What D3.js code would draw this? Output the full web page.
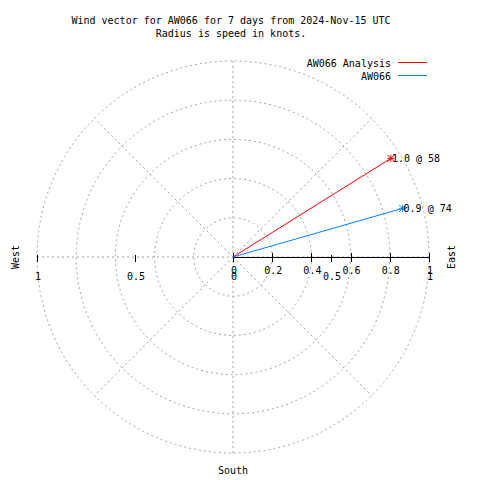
<!DOCTYPE html>
<html>
<head>
<meta charset="utf-8">
<script src="https://cdn.jsdelivr.net/npm/d3@7"></script>
<style>
  html, body { margin: 0; padding: 0; background: #fff; }
  svg text { font-family: "DejaVu Sans Mono", "Liberation Mono", monospace; font-size: 10px; fill: #000; }
</style>
</head>
<body>
<svg id="chart" width="480" height="480"></svg>
<script>
// ---- data ----
const titleLines = ["Wind vector for AW066 for 7 days from 2024-Nov-15 UTC", "Radius is speed in knots."];
const seriesNames = ["AW066 Analysis", "AW066"];
const seriesColors = ["#ff0000", "#0080ff"];
const speeds = [0.95, 0.90];          // radius (knots)
const speedLabels = ["1.0", "0.9"];
const directions = [58, 74];          // degrees, clockwise from north
const rTicks = [0, 0.2, 0.4, 0.6, 0.8, 1];
const rTickLabels = ["0", "0.2", "0.4", "0.6", "0.8", "1"];
const xTicks = [-1, -0.5, 0, 0.5, 1];
const xTickLabels = ["1", "0.5", "0", "0.5", "1"];
const gridCircles = [0.2, 0.4, 0.6, 0.8, 1.0];
const spokes = [45, 135, 225, 315];
const compassLabels = ["West", "East", "South"];

// ---- layout ----
const svg = d3.select("#chart");
const cx = 233, cy = 257, R = 196;
const r = d3.scaleLinear().domain([0, 1]).range([0, R]);
const x = d3.scaleLinear().domain([-1, 1]).range([cx - R, cx + R]);
const y = d3.scaleLinear().domain([-1, 1]).range([cy + R, cy - R]);
const gridColor = "#a0a0a0";
const dash = "2,3";

// polar (compass) to screen
const px = (sp, dir) => x(sp * Math.sin(dir * Math.PI / 180));
const py = (sp, dir) => y(sp * Math.cos(dir * Math.PI / 180));

// title
svg.append("g").selectAll("text").data(titleLines).join("text")
  .attr("x", 231).attr("y", (d, i) => 24 + i * 13)
  .attr("text-anchor", "middle").text(d => d);

const g = svg.append("g");

// grid circles
g.selectAll("circle.grid").data(gridCircles).join("circle")
  .attr("cx", cx).attr("cy", cy).attr("r", d => r(d))
  .attr("fill", "none").attr("stroke", gridColor).attr("stroke-dasharray", dash);

// vertical & horizontal grid
g.append("line").attr("x1", x(-1)).attr("x2", x(1)).attr("y1", cy).attr("y2", cy)
  .attr("stroke", gridColor).attr("stroke-dasharray", dash);
g.append("line").attr("x1", cx).attr("x2", cx).attr("y1", y(1)).attr("y2", y(-1))
  .attr("stroke", gridColor).attr("stroke-dasharray", dash);

// spokes
g.selectAll("line.spoke").data(spokes).join("line")
  .attr("x1", cx).attr("y1", cy)
  .attr("x2", d => px(1, d)).attr("y2", d => py(1, d))
  .attr("stroke", gridColor).attr("stroke-dasharray", dash);

// r axis (solid)
g.append("line").attr("x1", x(0)).attr("x2", x(1)).attr("y1", cy + 0.5).attr("y2", cy + 0.5)
  .attr("stroke", "#000").attr("stroke-width", 1);
g.selectAll("line.rtick").data(rTicks).join("line")
  .attr("x1", d => Math.round(cx + r(d)) + 0.5).attr("x2", d => Math.round(cx + r(d)) + 0.5)
  .attr("y1", cy - 4).attr("y2", cy + 5)
  .attr("stroke", "#000");
g.selectAll("text.rlab").data(rTicks).join("text")
  .attr("x", d => cx + r(d) + 1).attr("y", cy + 17)
  .attr("text-anchor", "middle").text((d, i) => rTickLabels[i]);

// x-axis ticks
g.selectAll("line.xtick").data(xTicks).join("line")
  .attr("x1", d => Math.round(x(d)) + 0.5).attr("x2", d => Math.round(x(d)) + 0.5)
  .attr("y1", cy - 2).attr("y2", cy + 5)
  .attr("stroke", "#000");
g.selectAll("text.xlab").data(xTicks).join("text")
  .attr("x", d => x(d) + 1).attr("y", cy + 23)
  .attr("text-anchor", "middle").text((d, i) => xTickLabels[i]);

// compass labels
svg.append("text").attr("transform", `translate(19,${cy}) rotate(-90)`)
  .attr("text-anchor", "middle").text(compassLabels[0]);
svg.append("text").attr("transform", `translate(455,${cy}) rotate(-90)`)
  .attr("text-anchor", "middle").text(compassLabels[1]);
svg.append("text").attr("x", cx).attr("y", 474)
  .attr("text-anchor", "middle").text(compassLabels[2]);

// vectors
const idx = d3.range(seriesNames.length);
const vec = svg.append("g");
vec.selectAll("line.vec").data(idx).join("line")
  .attr("x1", cx).attr("y1", cy)
  .attr("x2", i => px(speeds[i], directions[i])).attr("y2", i => py(speeds[i], directions[i]))
  .attr("stroke", i => seriesColors[i]).attr("stroke-width", 1);

// star markers
const s = 3.5;
const stars = vec.selectAll("g.star").data(idx).join("g")
  .attr("transform", i => `translate(${px(speeds[i], directions[i])},${py(speeds[i], directions[i])})`)
  .attr("stroke", i => seriesColors[i]);
stars.append("path").attr("d", `M${-s},0H${s}M0,${-s}V${s}M${-s},${-s}L${s},${s}M${-s},${s}L${s},${-s}`)
  .attr("fill", "none");

// value labels
vec.selectAll("text.val").data(idx).join("text")
  .attr("x", i => px(speeds[i], directions[i]) + 1)
  .attr("y", i => py(speeds[i], directions[i]) + 4)
  .text(i => `${speedLabels[i]} @ ${directions[i]}`);

// legend
const leg = svg.append("g");
leg.selectAll("text").data(idx).join("text")
  .attr("x", 391).attr("y", i => 67 + i * 13)
  .attr("text-anchor", "end").text(i => seriesNames[i]);
leg.selectAll("line").data(idx).join("line")
  .attr("x1", 398).attr("x2", 427)
  .attr("y1", i => 62.5 + i * 13).attr("y2", i => 62.5 + i * 13)
  .attr("stroke", i => seriesColors[i]);
</script>
</body>
</html>
